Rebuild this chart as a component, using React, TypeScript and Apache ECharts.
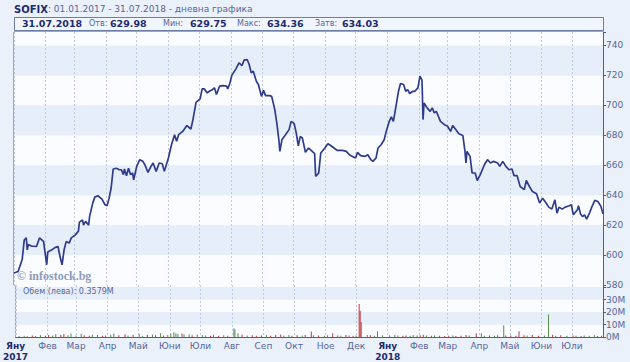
import React, { useEffect, useRef } from "react";
import * as echarts from "echarts";

const priceDates = [
  "2017-01-01","2017-01-05","2017-01-09","2017-01-11","2017-01-13","2017-01-14","2017-01-15","2017-01-18","2017-01-23","2017-01-26","2017-01-30","2017-01-31",
  "2017-02-02","2017-02-03","2017-02-07","2017-02-10","2017-02-13","2017-02-15","2017-02-17","2017-02-19","2017-02-21","2017-02-24","2017-02-26",
  "2017-03-02","2017-03-05","2017-03-06","2017-03-09","2017-03-10","2017-03-12","2017-03-15","2017-03-16","2017-03-19","2017-03-21","2017-03-24","2017-03-28","2017-03-31",
  "2017-04-02","2017-04-04","2017-04-06","2017-04-08","2017-04-11","2017-04-14","2017-04-16","2017-04-18","2017-04-19","2017-04-21","2017-04-23","2017-04-25","2017-04-27","2017-04-28",
  "2017-05-01","2017-05-04","2017-05-07","2017-05-09","2017-05-12","2017-05-15","2017-05-17","2017-05-20","2017-05-23","2017-05-26","2017-05-28",
  "2017-06-01","2017-06-04","2017-06-07","2017-06-09","2017-06-11","2017-06-15","2017-06-19","2017-06-23","2017-06-25","2017-06-28",
  "2017-07-02","2017-07-04","2017-07-06","2017-07-09","2017-07-11","2017-07-14","2017-07-16","2017-07-18","2017-07-21","2017-07-24","2017-07-28","2017-07-29","2017-07-31",
  "2017-08-02","2017-08-06","2017-08-09","2017-08-12","2017-08-14","2017-08-17","2017-08-19","2017-08-21","2017-08-23","2017-08-26","2017-08-28","2017-08-31",
  "2017-09-02","2017-09-04","2017-09-08","2017-09-10","2017-09-13","2017-09-15","2017-09-17","2017-09-18","2017-09-20","2017-09-23","2017-09-27","2017-09-29",
  "2017-10-02","2017-10-04","2017-10-06","2017-10-08","2017-10-10","2017-10-13","2017-10-16","2017-10-17","2017-10-22","2017-10-23","2017-10-26","2017-10-28",
  "2017-11-01","2017-11-04","2017-11-07","2017-11-10","2017-11-13","2017-11-18","2017-11-22","2017-11-25","2017-11-28",
  "2017-12-01","2017-12-03","2017-12-06","2017-12-10","2017-12-13","2017-12-16","2017-12-18","2017-12-21","2017-12-23","2017-12-26","2017-12-29","2017-12-31",
  "2018-01-03","2018-01-05","2018-01-07","2018-01-09","2018-01-12","2018-01-14","2018-01-17","2018-01-19","2018-01-21","2018-01-23","2018-01-26","2018-01-28","2018-01-31",
  "2018-02-02","2018-02-04","2018-02-05","2018-02-06","2018-02-09","2018-02-12","2018-02-14","2018-02-16","2018-02-18","2018-02-20","2018-02-22","2018-02-26",
  "2018-03-01","2018-03-04","2018-03-06","2018-03-09","2018-03-12","2018-03-16","2018-03-18","2018-03-19","2018-03-20","2018-03-23","2018-03-25","2018-03-28","2018-03-30",
  "2018-04-02","2018-04-06","2018-04-09","2018-04-12","2018-04-15","2018-04-19","2018-04-21","2018-04-24","2018-04-27","2018-04-30",
  "2018-05-03","2018-05-05","2018-05-08","2018-05-11","2018-05-15","2018-05-17","2018-05-20","2018-05-23","2018-05-27","2018-05-30",
  "2018-06-02","2018-06-05","2018-06-08","2018-06-11","2018-06-14","2018-06-16","2018-06-18","2018-06-21","2018-06-24","2018-06-28","2018-06-30",
  "2018-07-02","2018-07-06","2018-07-07","2018-07-09","2018-07-11","2018-07-13","2018-07-15","2018-07-18","2018-07-20","2018-07-23","2018-07-26","2018-07-29","2018-07-31",
];

const priceValues = [
  588.0,589.0,597.0,610.0,611.5,603.5,607.0,606.0,605.7,611.5,609.0,603.5,
  593.5,602.0,603.5,605.0,605.7,599.0,593.5,603.5,609.0,608.0,611.5,
  613.5,616.0,622.0,623.5,620.0,622.5,620.0,626.0,634.7,638.7,639.6,637.4,633.6,
  633.0,638.0,644.8,657.5,658.0,657.0,657.0,653.7,657.5,653.0,658.0,653.7,654.8,650.3,
  659.2,663.7,662.6,660.3,655.2,659.2,661.5,655.9,661.5,661.0,655.9,
  664.8,673.7,680.4,676.0,680.4,682.6,686.5,684.2,690.5,702.0,
  704.3,711.0,711.0,708.3,709.4,710.5,711.7,707.2,712.8,713.2,712.8,711.0,714.6,
  720.0,724.4,728.4,726.6,730.2,730.6,727.3,721.7,722.8,716.1,713.9,706.0,
  710.0,706.5,706.5,706.0,697.2,688.3,677.0,669.3,677.0,679.8,683.8,689.3,
  687.8,681.6,673.0,679.3,678.2,668.6,671.5,670.9,667.7,652.6,654.8,668.2,
  671.5,674.4,673.0,671.5,669.9,669.9,669.3,667.0,665.9,
  664.8,668.6,666.4,665.9,667.0,663.7,662.6,664.8,671.5,673.7,677.0,682.6,
  689.3,692.3,689.3,697.2,709.4,714.6,713.9,709.4,710.5,707.9,709.4,709.4,711.7,
  719.5,716.8,690.5,701.6,698.3,696.0,698.3,695.0,696.0,692.7,689.3,687.1,
  686.0,682.6,686.5,683.8,681.0,679.8,669.3,661.5,669.3,665.9,654.8,654.8,649.8,
  653.7,660.3,663.7,661.5,662.6,661.5,659.2,662.6,659.2,657.0,
  657.5,653.0,653.0,645.8,643.7,649.8,645.8,642.5,641.0,634.7,
  638.0,635.1,632.0,630.7,636.9,628.0,632.0,630.7,632.0,632.9,633.6,
  626.9,630.3,632.9,627.5,625.7,626.9,624.0,628.4,632.0,636.5,635.8,632.5,627.5,
];

const volumeDates = [
  "2017-01-04","2017-01-09","2017-01-12","2017-01-17","2017-01-20","2017-01-25","2017-01-30",
  "2017-02-02","2017-02-06","2017-02-09","2017-02-14","2017-02-17","2017-02-21","2017-02-24",
  "2017-03-01","2017-03-06","2017-03-09","2017-03-14","2017-03-17","2017-03-22","2017-03-27","2017-03-30",
  "2017-04-04","2017-04-07","2017-04-12","2017-04-18","2017-04-21","2017-04-26",
  "2017-05-02","2017-05-05","2017-05-10","2017-05-15","2017-05-18","2017-05-23","2017-05-26","2017-05-30",
  "2017-06-02","2017-06-05","2017-06-07","2017-06-09","2017-06-13","2017-06-15","2017-06-20","2017-06-23","2017-06-28",
  "2017-07-03","2017-07-06","2017-07-11","2017-07-14","2017-07-19","2017-07-24","2017-07-28",
  "2017-08-03","2017-08-04","2017-08-07","2017-08-11","2017-08-16","2017-08-21","2017-08-25","2017-08-30",
  "2017-09-04","2017-09-08","2017-09-13","2017-09-18","2017-09-21","2017-09-26","2017-09-29",
  "2017-10-04","2017-10-09","2017-10-12","2017-10-18","2017-10-20","2017-10-25","2017-10-31",
  "2017-11-03","2017-11-08","2017-11-13","2017-11-16","2017-11-21","2017-11-24","2017-11-28",
  "2017-12-01","2017-12-04","2017-12-05","2017-12-06","2017-12-12","2017-12-15","2017-12-19","2017-12-22","2017-12-27",
  "2018-01-03","2018-01-08","2018-01-11","2018-01-16","2018-01-19","2018-01-23","2018-01-26","2018-01-30",
  "2018-02-02","2018-02-05","2018-02-08","2018-02-13","2018-02-16","2018-02-21","2018-02-26",
  "2018-03-02","2018-03-06","2018-03-09","2018-03-14","2018-03-19","2018-03-22","2018-03-29",
  "2018-04-03","2018-04-06","2018-04-11","2018-04-16","2018-04-19","2018-04-25","2018-04-27",
  "2018-05-02","2018-05-07","2018-05-10","2018-05-15","2018-05-18","2018-05-23","2018-05-29",
  "2018-06-04","2018-06-08","2018-06-12","2018-06-15","2018-06-20","2018-06-26",
  "2018-07-02","2018-07-05","2018-07-10","2018-07-13","2018-07-18","2018-07-23","2018-07-26","2018-07-30",
];

// volume in millions of leva
const volumeValues = [
  0.8,1.0,0.7,1.2,0.9,1.4,1.0,
  1.6,1.2,2.2,1.8,2.4,1.5,2.8,
  1.2,2.6,1.4,1.0,1.8,1.6,1.0,1.3,
  1.8,2.8,1.4,2.2,1.2,1.6,
  2.4,1.0,1.8,2.0,1.4,3.0,1.2,1.6,
  2.6,3.8,3.0,2.4,2.8,2.2,2.0,1.5,2.0,
  1.6,1.2,1.0,1.8,1.0,1.4,1.0,
  7.0,6.0,3.0,2.0,1.2,1.4,1.0,1.2,
  1.4,1.0,1.6,2.0,1.2,1.6,1.0,
  1.4,1.2,1.6,4.5,1.4,1.2,1.0,
  1.4,3.0,1.2,1.0,1.6,1.2,1.0,
  1.2,26.5,21.0,12.0,1.6,1.4,1.0,4.6,1.4,
  1.4,1.6,1.2,1.0,1.2,1.0,1.6,1.2,
  1.4,1.8,1.2,1.0,1.2,1.0,0.8,
  1.0,1.2,0.8,1.0,1.6,1.2,3.0,
  3.0,1.0,1.2,1.0,1.4,9.4,1.2,
  1.2,1.0,4.6,1.4,1.2,1.6,1.0,
  1.2,18.0,1.8,1.0,1.4,1.0,
  1.2,1.0,0.8,1.2,1.0,1.4,0.8,1.0,
];

// 1 = index closed up that day, 0 = down
const volumeUp = [
  1,1,0,0,1,1,0,
  0,1,1,0,0,1,1,
  1,1,0,0,1,1,0,0,
  1,1,0,0,1,0,
  1,1,0,1,0,1,0,1,
  1,1,1,1,0,1,1,0,1,
  1,1,0,1,0,1,0,
  1,1,1,0,1,0,0,0,
  1,0,0,0,1,1,1,
  0,1,0,0,1,0,1,
  1,0,0,1,0,0,0,
  1,0,0,0,1,0,1,1,1,
  1,1,1,0,0,1,1,1,
  0,0,1,0,1,0,0,
  0,1,0,0,0,1,0,
  1,1,0,1,0,1,0,
  0,0,0,0,1,0,0,
  1,1,0,1,0,1,
  0,1,0,1,1,1,0,0,
];

const monthNames = ["Яну","Фев","Мар","Апр","Май","Юни","Юли","Авг","Сеп","Окт","Ное","Дек"];

const axisStart = "2017-01-01";
const axisEnd = "2018-07-31";
const priceMin = 580;
const priceMax = 749;
const priceStep = 20;
const volumeMax = 41.7;
const volumeStep = 10;

const titleName = "SOFIX";
const titleRest = ": 01.01.2017 - 31.07.2018 - дневна графика";
const quoteDate = "31.07.2018";
const quoteLabels = ["Отв:", "Мин:", "Макс:", "Затв:"];
const quoteValues = ["629.98", "629.75", "634.36", "634.03"];
const volumeCaption = "Обем (лева): 0.3579M";
const watermark = "© infostock.bg";

const FONT = "DejaVu Sans";
const DAY = 86400000;

export default function App() {
  const ref = useRef<HTMLDivElement>(null);

  useEffect(() => {
    if (!ref.current) return;
    const chart = echarts.init(ref.current, undefined, { renderer: "svg" });

    const axisColor = "#4d5d8f";
    const labelColor = "#56669a";
    const navy = "#1c2b6e";
    const gridDash = { color: "#c2cadf", type: [2, 2] as any, width: 1 };
    const startTs = +echarts.time.parse(axisStart);

    const labelX = [89, 163, 237, 315];
    const valueX = [110, 190, 267, 342];

    const quoteTexts: any[] = [];
    quoteLabels.forEach((l, i) => {
      quoteTexts.push({
        type: "text", left: labelX[i], top: 19.5, z: 20,
        style: { text: l, fontSize: 8, fontFamily: FONT, fill: labelColor },
      });
      quoteTexts.push({
        type: "text", left: valueX[i], top: 18.5, z: 20,
        style: { text: quoteValues[i], fontSize: 9.5, fontWeight: "bold", fontFamily: FONT, fill: navy },
      });
    });

    const timeAxisBase = {
      type: "time",
      min: axisStart,
      max: axisEnd,
      splitNumber: 19,
      minInterval: 28 * DAY,
      maxInterval: 31 * DAY,
      axisTick: { show: false },
      splitLine: { show: true, lineStyle: gridDash },
    };

    const option: any = {
      animation: false,
      backgroundColor: "#ebf1fa",
      grid: [
        { left: 14, right: 27, top: 32, height: 253, show: true, borderColor: axisColor, borderWidth: 1, backgroundColor: "transparent" },
        { left: 14, right: 27, top: 285, height: 52, show: true, borderColor: axisColor, borderWidth: 1, backgroundColor: "transparent" },
      ],
      xAxis: [
        { ...timeAxisBase, gridIndex: 0, axisLine: { show: false }, axisLabel: { show: false } },
        {
          ...timeAxisBase,
          gridIndex: 1,
          axisLine: { show: true, lineStyle: { color: axisColor } },
          axisLabel: {
            show: true,
            margin: 3,
            showMinLabel: true,
            showMaxLabel: false,
            hideOverlap: false,
            formatter: (v: number) => {
              const d = new Date(Math.max(v, startTs) + 12 * 3600000);
              const m = d.getMonth();
              if (m === 0) return `{j|${monthNames[0]}}\n{j|${d.getFullYear()}}`;
              return `{m|${monthNames[m]}}`;
            },
            rich: {
              j: { fontWeight: "bold", color: navy, fontSize: 9, lineHeight: 11, fontFamily: FONT },
              m: { color: labelColor, fontSize: 9, lineHeight: 11, fontFamily: FONT },
            },
          },
        },
      ],
      yAxis: [
        {
          type: "value", gridIndex: 0, position: "right",
          min: priceMin, max: priceMax, interval: priceStep,
          axisLine: { show: true, lineStyle: { color: axisColor } },
          axisTick: { show: true, length: 3, lineStyle: { color: axisColor } },
          axisLabel: {
            color: labelColor, fontSize: 9, fontFamily: FONT, margin: 3,
            formatter: (v: number) => (v % priceStep === 0 ? String(v) : ""),
          },
          splitLine: { show: false },
          splitArea: { show: true, areaStyle: { color: ["#fbfcff", "#e6eefa"] } },
        },
        {
          type: "value", gridIndex: 1, position: "right",
          min: 0, max: volumeMax, interval: volumeStep,
          axisLine: { show: true, lineStyle: { color: axisColor } },
          axisTick: { show: true, length: 3, lineStyle: { color: axisColor } },
          axisLabel: {
            color: labelColor, fontSize: 9, fontFamily: FONT, margin: 3,
            formatter: (v: number) => (v % volumeStep === 0 && v <= 30 ? `${v}M` : ""),
          },
          splitLine: { show: false },
          splitArea: { show: true, areaStyle: { color: ["#fbfcff", "#e6eefa"] } },
        },
      ],
      series: [
        {
          type: "line",
          xAxisIndex: 0, yAxisIndex: 0,
          data: priceDates.map((d, i) => [d, priceValues[i]]),
          symbol: "none",
          lineStyle: { color: "#2f3c8c", width: 1.7 },
          z: 5,
        },
        {
          type: "bar",
          xAxisIndex: 1, yAxisIndex: 1,
          barWidth: 1,
          data: volumeDates.map((d, i) => ({
            value: [d, volumeValues[i]],
            itemStyle: { color: volumeUp[i] ? "#5a8c46" : "#c0383c" },
          })),
          z: 5,
        },
      ],
      graphic: [
        {
          type: "text", left: 14, top: 4, z: 20,
          style: {
            text: `{b|${titleName}}{n|${titleRest}}`,
            rich: {
              b: { fontWeight: "bold", fontSize: 10, fontFamily: FONT, fill: navy },
              n: { fontSize: 9, fontFamily: FONT, fill: labelColor },
            },
          },
        },
        {
          type: "rect", z: 15,
          shape: { x: 14.5, y: 17.5, width: 589, height: 13 },
          style: { fill: "#f1f5fd", stroke: "#6d7da8", lineWidth: 1 },
        },
        {
          type: "text", left: 22, top: 18.5, z: 20,
          style: { text: quoteDate, fontSize: 9.5, fontWeight: "bold", fontFamily: FONT, fill: navy },
        },
        ...quoteTexts,
        {
          type: "text", left: 17, top: 270, z: 20,
          style: { text: watermark, fontSize: 12, fontWeight: "bold", fontFamily: "Liberation Serif", fill: "#8d9bbb" },
        },
        {
          type: "text", left: 23, top: 287, z: 20,
          style: { text: volumeCaption, fontSize: 8, fontFamily: FONT, fill: labelColor },
        },
      ],
    };

    chart.setOption(option);
    return () => chart.dispose();
  }, []);

  return (
    <div
      ref={ref}
      style={{ position: "fixed", left: 0, top: 0, width: 630, height: 362, background: "#ebf1fa" }}
    />
  );
}
